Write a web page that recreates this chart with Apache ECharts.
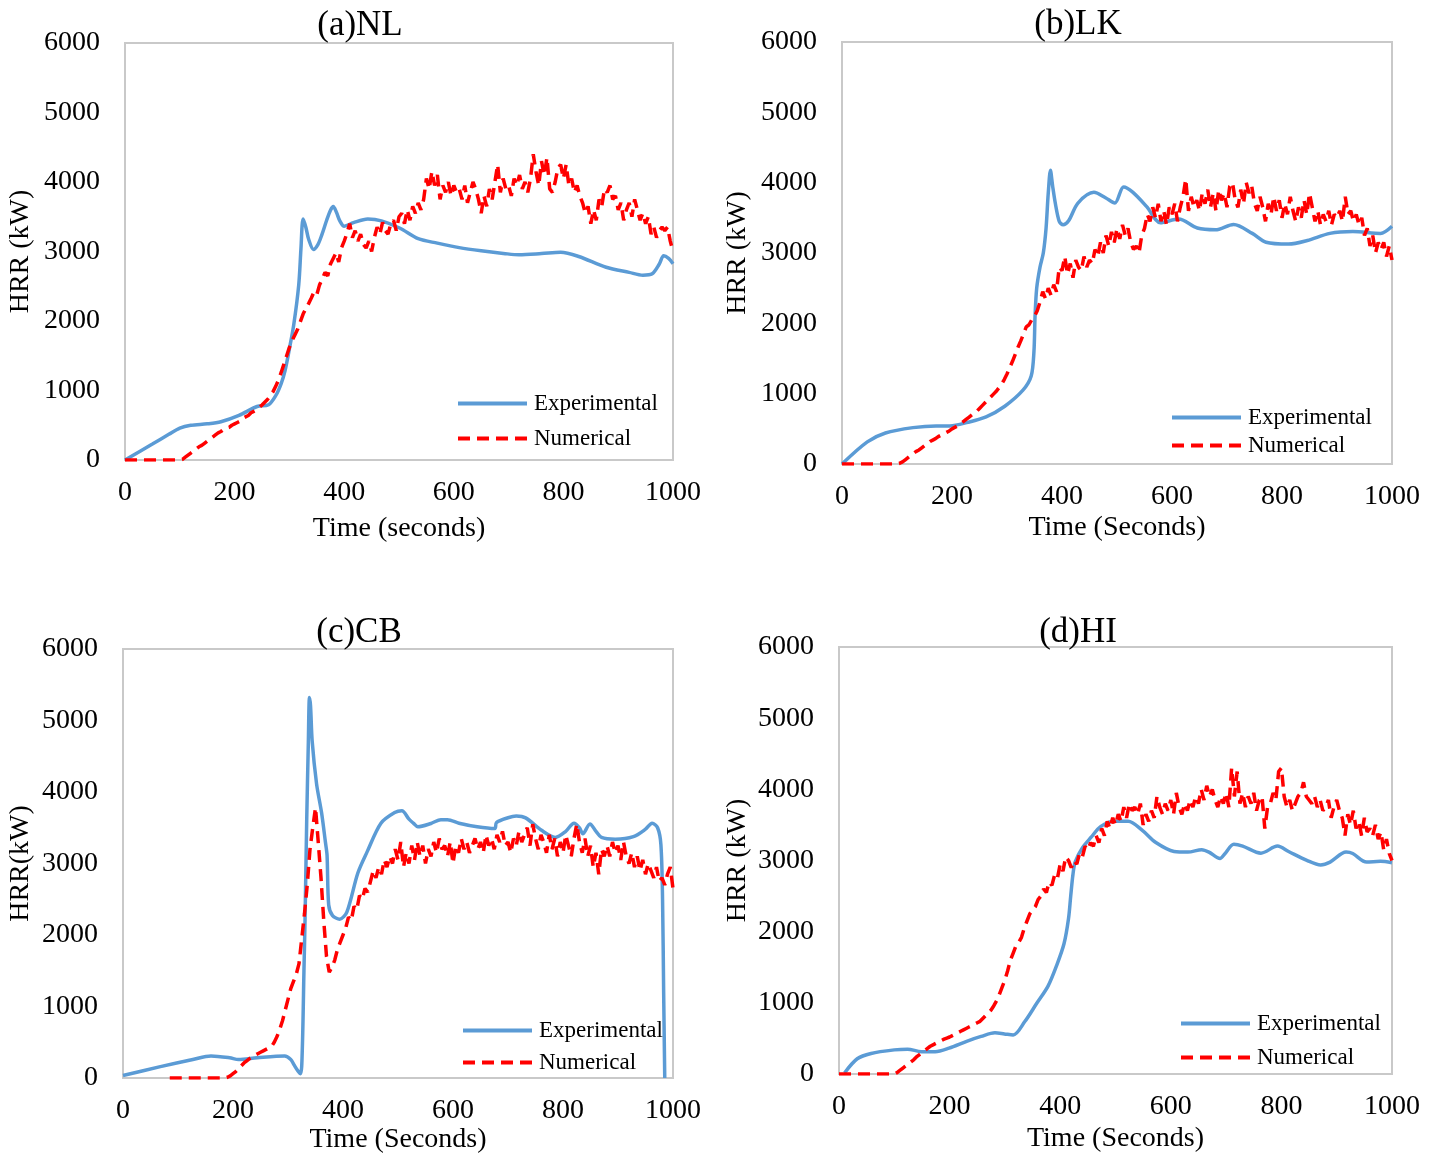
<!DOCTYPE html>
<html>
<head>
<meta charset="utf-8">
<title>HRR comparison</title>
<script src="https://cdn.jsdelivr.net/npm/echarts@6/dist/echarts.min.js"></script>
<style>
  html, body { margin: 0; padding: 0; background: #ffffff; }
  #chart { width: 1439px; height: 1155px; }
</style>
</head>
<body>
<div id="chart"></div>
<script>
// Axis ticks (shared by all four panels)
const timeTicks = [0, 200, 400, 600, 800, 1000];
const hrrTicks = [0, 1000, 2000, 3000, 4000, 5000, 6000];
const seriesNames = ['Experimental', 'Numerical'];

// Numerical results are sampled every NUM_STEP seconds from t = 0
const NUM_STEP = 5;

// ---- (a) NL ----
const expTimeA = [0, 50, 80, 100, 120, 150, 175, 208, 241, 262, 275, 285, 292, 300, 308, 317, 321, 325, 330, 335, 344, 352, 359, 368, 375, 380, 386, 392, 400, 417, 443, 468, 501, 535, 570, 610, 650, 694, 719, 760, 795, 828, 878, 920, 945, 962, 975, 983, 992, 1000];
const expHrrA = [0, 230, 370, 460, 500, 520, 550, 642, 770, 796, 925, 1100, 1284, 1600, 1950, 2517, 3030, 3467, 3350, 3180, 3030, 3100, 3236, 3450, 3595, 3647, 3560, 3441, 3364, 3415, 3467, 3441, 3338, 3184, 3120, 3056, 3010, 2969, 2953, 2970, 2989, 2928, 2773, 2700, 2660, 2680, 2820, 2938, 2900, 2825];
const numHrrA = [
  0, 0, 0, 0, 0, 0, 0, 0, 0, 0, 0, 0, 0, 0, 0, 0, 0, 0, 0, 0,
  0, 10, 40, 70, 100, 130, 160, 190, 210, 240, 270, 300, 330, 360, 390, 410, 440, 460, 470, 500,
  520, 540, 560, 600, 620, 640, 680, 700, 720, 760, 790, 830, 870, 920, 980, 1060, 1150, 1260, 1380, 1500,
  1620, 1720, 1800, 1880, 1990, 2100, 2180, 2250, 2330, 2420, 2380, 2520, 2600, 2700, 2650, 2820, 2900, 2980, 2850, 3050,
  3150, 3260, 3400, 3200, 3300, 3150, 3250, 3100, 3050, 3150, 3000, 3200, 3350, 3250, 3420, 3300, 3250, 3400, 3450, 3300,
  3500, 3550, 3400, 3600, 3450, 3650, 3550, 3700, 3600, 3750, 4050, 3900, 4150, 3950, 4100, 3750, 3950, 3850, 4000, 3800,
  3950, 3850, 3900, 3750, 3950, 3700, 3850, 4000, 3900, 3750, 3550, 3800, 3650, 3900, 3750, 4000, 4250, 3850, 4050, 3900,
  3950, 3800, 4050, 3950, 4100, 3900, 4000, 3850, 4050, 4400, 4150, 3950, 4300, 4100, 4350, 3900, 3850, 4000, 4200, 4250,
  4050, 4250, 3950, 4050, 3850, 3950, 3800, 3700, 3550, 3650, 3400, 3600, 3450, 3750, 3650, 3900, 3850, 3950, 3750, 3800,
  3600, 3700, 3450, 3600, 3700, 3500, 3750, 3600, 3450, 3550, 3400, 3500, 3250, 3350, 3200, 3300, 3350, 3300, 3350, 3150,
  3000
];

// ---- (b) LK ----
const expTimeB = [0, 46, 79, 129, 171, 196, 229, 262, 296, 329, 344, 349, 351, 354, 360, 366, 371, 375, 379, 383, 388, 395, 402, 412, 429, 458, 479, 496, 512, 529, 554, 579, 612, 646, 679, 712, 746, 771, 812, 846, 887, 929, 979, 1000];
const expHrrB = [0, 314, 441, 517, 542, 542, 593, 669, 821, 1049, 1250, 1600, 2100, 2500, 2800, 3000, 3350, 3850, 4176, 3950, 3700, 3450, 3400, 3457, 3710, 3862, 3786, 3710, 3938, 3862, 3659, 3431, 3482, 3355, 3330, 3406, 3279, 3153, 3127, 3178, 3279, 3305, 3279, 3381];
const numHrrB = [
  0, 0, 0, 0, 0, 0, 0, 0, 0, 0, 0, 0, 0, 0, 0, 0, 0, 0, 0, 0,
  0, 10, 30, 60, 90, 120, 150, 180, 200, 230, 260, 290, 320, 340, 360, 390, 410, 430, 450, 470,
  500, 520, 540, 570, 600, 630, 660, 690, 720, 750, 790, 830, 870, 910, 950, 990, 1030, 1080, 1130, 1200,
  1280, 1370, 1460, 1560, 1660, 1750, 1850, 1950, 1980, 2050, 2100, 2180, 2300, 2450, 2350, 2500, 2400, 2550, 2450, 2800,
  2750, 2950, 2700, 2850, 2650, 2900, 2800, 2750, 2950, 2800, 2900, 2850, 3050, 2950, 3150, 3000, 3250, 3100, 3300, 3150,
  3350, 3200, 3400, 3250, 3350, 3150, 3050, 3100, 3000, 3250, 3350, 3550, 3450, 3650, 3500, 3700, 3450, 3600, 3400, 3650,
  3550, 3700, 3450, 3650, 3800, 4050, 3600, 3800, 3650, 3750, 3600, 3850, 3700, 3900, 3650, 3850, 3600, 3900, 3750, 3850,
  3650, 3950, 4000, 3750, 3650, 3900, 3700, 4000, 3850, 3950, 3700, 3600, 3800, 3650, 3450, 3700, 3550, 3800, 3600, 3750,
  3500, 3700, 3550, 3800, 3600, 3450, 3650, 3500, 3750, 3550, 3850, 3650, 3450, 3600, 3400, 3550, 3450, 3600, 3400, 3550,
  3500, 3600, 3450, 3800, 3550, 3600, 3450, 3550, 3400, 3500, 3250, 3350, 3100, 3250, 3000, 3150, 3050, 3150, 2950, 3100,
  2900
];

// ---- (c) CB ----
const expTimeC = [0, 68, 127, 160, 194, 210, 244, 294, 305, 311, 318, 323, 326, 329, 331, 334, 337, 339, 341, 344, 352, 361, 368, 371, 374, 381, 394, 407, 427, 444, 469, 494, 507, 520, 528, 536, 560, 578, 590, 611, 644, 676, 679, 700, 715, 732, 761, 786, 805, 820, 830, 836, 849, 860, 870, 895, 928, 950, 962, 972, 978, 981, 983, 985];
const expHrrC = [35, 159, 258, 308, 283, 258, 283, 308, 260, 184, 100, 60, 400, 1500, 2222, 3600, 4700, 5320, 5200, 4707, 4110, 3713, 3300, 3116, 2420, 2271, 2222, 2321, 2868, 3166, 3564, 3713, 3738, 3620, 3564, 3514, 3560, 3613, 3613, 3564, 3514, 3489, 3573, 3640, 3663, 3638, 3464, 3365, 3450, 3564, 3500, 3415, 3553, 3450, 3365, 3340, 3375, 3480, 3564, 3500, 3265, 2500, 1200, 0];
const numHrrC = [
  null, null, null, null, null, null, null, null, null, null, null, null, null, null, null, null, null, 0, 0, 0,
  0, 0, 0, 0, 0, 0, 0, 0, 0, 0, 0, 0, 0, 0, 0, 0, 0, 0, 10, 30,
  60, 90, 130, 170, 210, 240, 270, 290, 320, 340, 360, 380, 400, 420, 440, 500, 580, 680, 800, 950,
  1100, 1250, 1350, 1450, 1600, 1950, 2300, 2700, 3200, 3500, 3780, 3300, 2800, 2200, 1700, 1480, 1550, 1650, 1800, 1900,
  2000, 2100, 2250, 2200, 2400, 2350, 2550, 2500, 2650, 2600, 2750, 2900, 2800, 2950, 2850, 3050, 2950, 3100, 3000, 3200,
  3050, 3300, 2950, 3150, 3000, 3250, 3050, 3300, 3100, 3250, 3000, 3200, 3100, 3300, 3150, 3350, 3200, 3250, 3100, 3300,
  3000, 3250, 3150, 3350, 3200, 3300, 3150, 3250, 3350, 3200, 3300, 3150, 3400, 3250, 3350, 3200, 3400, 3300, 3450, 3250,
  3300, 3150, 3350, 3250, 3450, 3300, 3400, 3500, 3250, 3550, 3350, 3200, 3400, 3300, 3150, 3400, 3200, 3350, 3100, 3300,
  3150, 3400, 3250, 3100, 3350, 3550, 3300, 3150, 3350, 3100, 3250, 2950, 3150, 2850, 3200, 3100, 3250, 3100, 3300, 3150,
  3250, 3050, 3300, 3100, 3000, 3150, 2950, 3100, 2900, 3050, 2850, 3000, 2900, 2800, 2950, 2750, 2800, 2700, 2850, 2950,
  2650
];

// ---- (d) HI ----
const expTimeD = [10, 33, 58, 100, 124, 149, 174, 199, 232, 257, 282, 299, 315, 336, 357, 378, 394, 407, 415, 419, 423, 427, 440, 456, 473, 498, 523, 548, 573, 606, 631, 656, 669, 689, 697, 714, 730, 763, 793, 813, 846, 871, 888, 917, 929, 954, 979, 1000];
const expHrrD = [15, 214, 289, 339, 349, 314, 314, 364, 463, 528, 578, 563, 548, 737, 986, 1235, 1534, 1833, 2181, 2500, 2800, 2978, 3177, 3327, 3476, 3551, 3551, 3426, 3252, 3127, 3118, 3152, 3118, 3028, 3088, 3227, 3202, 3103, 3202, 3127, 3003, 2938, 2978, 3118, 3098, 2978, 2988, 2968];
const numHrrD = [
  0, 0, 0, 0, 0, 0, 0, 0, 0, 0, 0, 0, 0, 0, 0, 0, 0, 0, 0, 0,
  0, 20, 50, 80, 110, 140, 170, 200, 240, 270, 300, 330, 360, 390, 410, 430, 450, 470, 490, 505,
  520, 540, 560, 580, 600, 620, 640, 660, 680, 700, 720, 740, 780, 820, 860, 900, 960, 1030, 1120, 1220,
  1320, 1450, 1600, 1700, 1800, 1850, 1920, 2050, 2150, 2250, 2300, 2350, 2450, 2500, 2600, 2550, 2700, 2650, 2800, 2750,
  2950, 2850, 3050, 3000, 2900, 3000, 2950, 3100, 3050, 3200, 3150, 3250, 3200, 3350, 3250, 3450, 3350, 3550, 3450, 3600,
  3500, 3650, 3550, 3750, 3600, 3800, 3700, 3750, 3650, 3800, 3500, 3650, 3550, 3700, 3600, 3900, 3750, 3650, 3800, 3700,
  3850, 3650, 3950, 3750, 3650, 3800, 3700, 3850, 3750, 3900, 3800, 4000, 3850, 4050, 3900, 4000, 3850, 3750, 3900, 3800,
  3950, 3750, 4300, 3900, 4250, 3800, 3950, 3750, 3900, 3800, 3950, 3700, 3850, 3900, 3450, 3750, 3800, 3950, 3850, 4250,
  4300, 3900, 3750, 3850, 3700, 3800, 3900, 3950, 4100, 3900, 3850, 3800, 3900, 3750, 3850, 3700, 3750, 3850, 3600, 3750,
  3850, 3700, 3600, 3350, 3650, 3500, 3700, 3450, 3550, 3350, 3600, 3400, 3450, 3350, 3500, 3300, 3400, 3150, 3300, 3100,
  3000
];

// Panel layout (pixel boxes of each plot area and its legend)
const panels = [
  { title: '(a)NL', xName: 'Time (seconds)', yName: 'HRR (kW)',
    box: { left: 125, top: 43, width: 548, height: 417 }, titlePos: [355, 3],
    legendPos: [456, 392], legendGap: 12, xNameGap: 55, yNameGap: 90,
    expT: expTimeA, expV: expHrrA, num: numHrrA },
  { title: '(b)LK', xName: 'Time (Seconds)', yName: 'HRR (kW)',
    box: { left: 842, top: 42, width: 550, height: 422 }, titlePos: [1073, 2],
    legendPos: [1170, 406], legendGap: 5, xNameGap: 50, yNameGap: 90,
    expT: expTimeB, expV: expHrrB, num: numHrrB },
  { title: '(c)CB', xName: 'Time (Seconds)', yName: 'HRR(kW)',
    box: { left: 123, top: 649, width: 550, height: 429 }, titlePos: [354, 610],
    legendPos: [461, 1019], legendGap: 9, xNameGap: 44, yNameGap: 88,
    expT: expTimeC, expV: expHrrC, num: numHrrC },
  { title: '(d)HI', xName: 'Time (Seconds)', yName: 'HRR (kW)',
    box: { left: 839, top: 647, width: 553, height: 427 }, titlePos: [1073, 610],
    legendPos: [1179, 1012], legendGap: 11, xNameGap: 51, yNameGap: 87,
    expT: expTimeD, expV: expHrrD, num: numHrrD }
];

const FONT = "'Liberation Serif', 'Times New Roman', serif";
const BLUE = '#5B9BD5';
const RED = '#FF0000';

const option = {
  animation: false,
  backgroundColor: '#ffffff',
  title: [], grid: [], xAxis: [], yAxis: [], legend: [], series: []
};

panels.forEach((p, i) => {
  option.title.push({
    text: p.title, left: p.titlePos[0], top: p.titlePos[1], textAlign: 'center',
    textStyle: { fontFamily: FONT, fontSize: 35, fontWeight: 'normal', color: '#000' }
  });
  option.grid.push(Object.assign({
    show: true, borderColor: '#C9C9C9', borderWidth: 2, backgroundColor: 'transparent',
    containLabel: false
  }, p.box));
  option.xAxis.push({
    type: 'value', gridIndex: i, min: timeTicks[0], max: timeTicks[timeTicks.length - 1],
    interval: timeTicks[1] - timeTicks[0],
    name: p.xName, nameLocation: 'middle', nameGap: p.xNameGap,
    nameTextStyle: { fontFamily: FONT, fontSize: 28, color: '#000' },
    axisLine: { show: false }, axisTick: { show: false }, splitLine: { show: false },
    axisLabel: { fontFamily: FONT, fontSize: 28, color: '#000', margin: 19,
                 formatter: v => String(v) }
  });
  option.yAxis.push({
    type: 'value', gridIndex: i, min: hrrTicks[0], max: hrrTicks[hrrTicks.length - 1],
    interval: hrrTicks[1] - hrrTicks[0],
    name: p.yName, nameLocation: 'middle', nameGap: p.yNameGap, nameRotate: 90,
    nameTextStyle: { fontFamily: FONT, fontSize: 28, color: '#000' },
    axisLine: { show: false }, axisTick: { show: false }, splitLine: { show: false },
    axisLabel: { fontFamily: FONT, fontSize: 28, color: '#000', margin: 25,
                 formatter: v => String(v) }
  });
  option.legend.push({
    data: seriesNames, orient: 'vertical', left: p.legendPos[0], top: p.legendPos[1],
    itemWidth: 69, itemHeight: 24, itemGap: p.legendGap, padding: 0,
    selectedMode: false,
    itemStyle: { opacity: 0 },
    lineStyle: { width: 4 },
    textStyle: { fontFamily: FONT, fontSize: 23, color: '#000', padding: [0, 0, 0, 2] }
  });
  option.series.push({
    name: seriesNames[0], type: 'line', xAxisIndex: i, yAxisIndex: i,
    data: p.expT.map((t, k) => [t, p.expV[k]]),
    smooth: 0.3, showSymbol: false, symbol: 'none',
    lineStyle: { color: BLUE, width: 3.5 }, itemStyle: { color: BLUE }, z: 3
  });
  const numData = [];
  p.num.forEach((v, k) => { if (v !== null) numData.push([k * NUM_STEP, v]); });
  option.series.push({
    name: seriesNames[1], type: 'line', xAxisIndex: i, yAxisIndex: i,
    data: numData, showSymbol: false, symbol: 'none',
    lineStyle: { color: RED, width: 3.5, type: [12, 7] }, itemStyle: { color: RED }, z: 4
  });
});

const chart = echarts.init(document.getElementById('chart'), null, { renderer: 'canvas' });
chart.setOption(option);
</script>
</body>
</html>
